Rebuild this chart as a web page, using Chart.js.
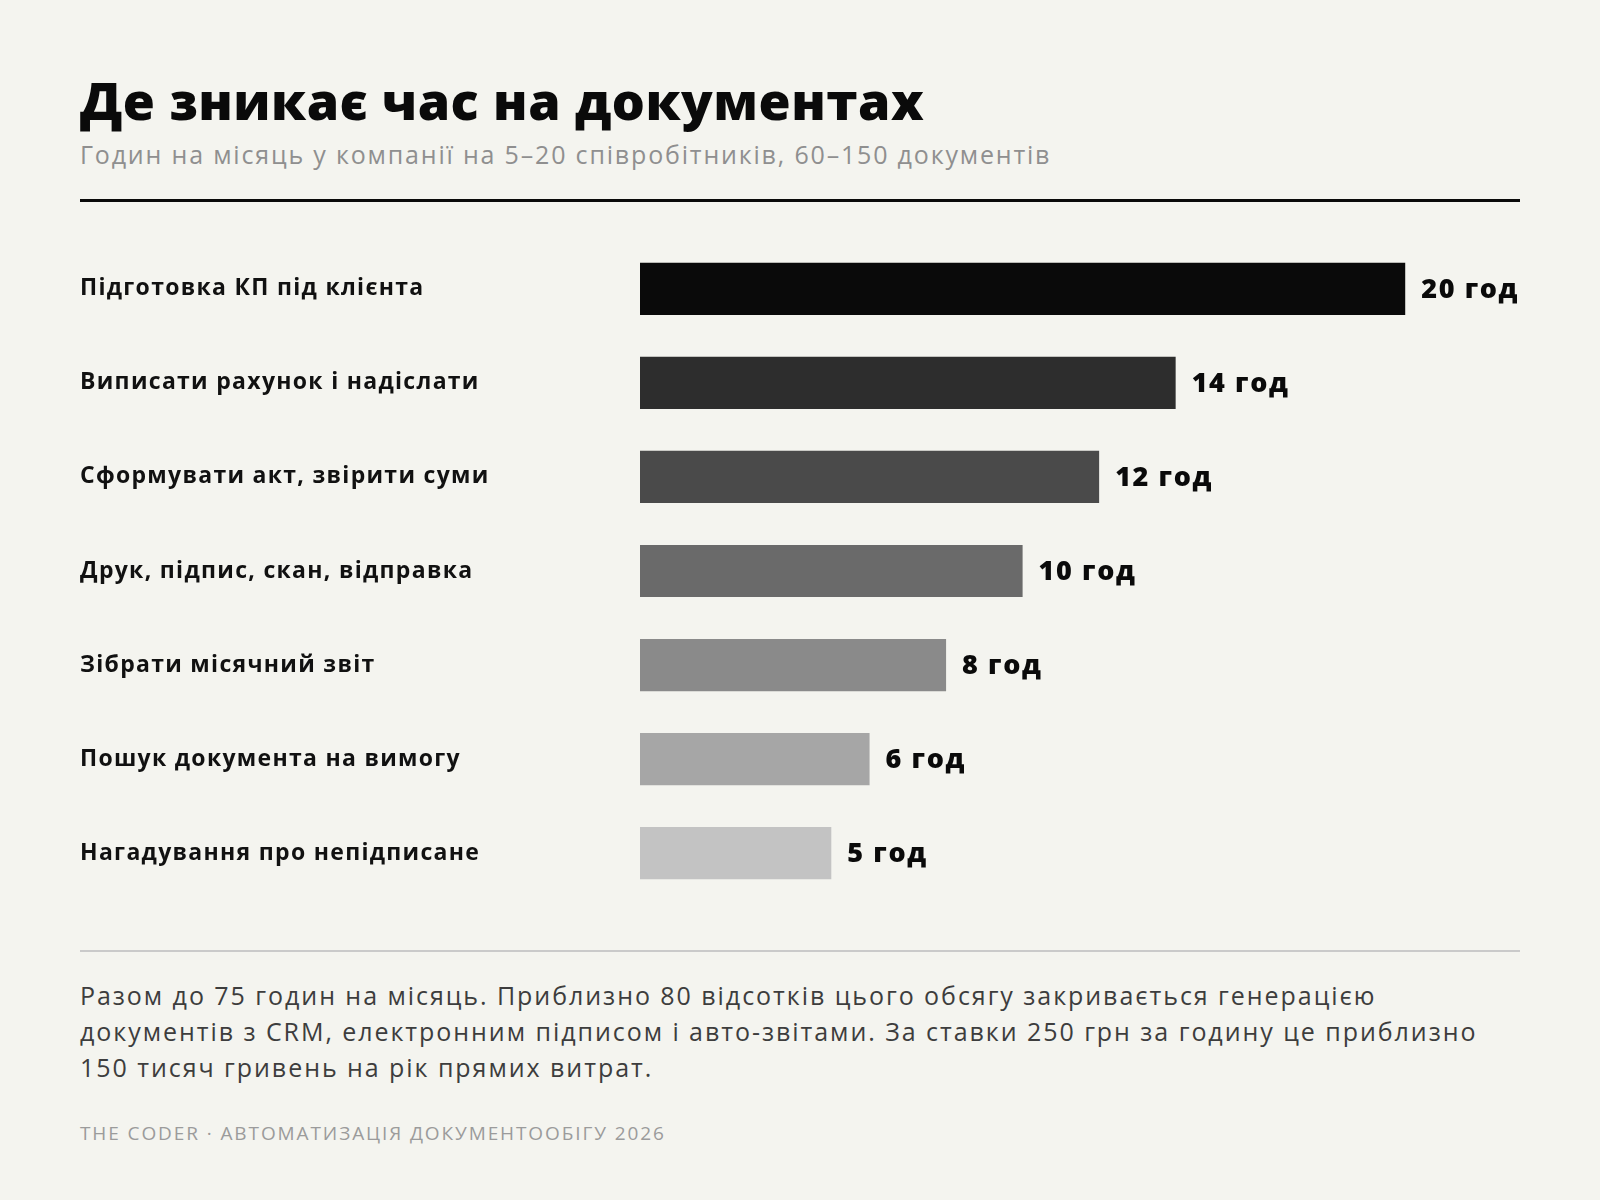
<!DOCTYPE html>
<html lang="uk">
<head>
<meta charset="utf-8">
<title>Де зникає час на документах</title>
<script src="https://cdn.jsdelivr.net/npm/chart.js@4.4.1/dist/chart.umd.min.js"></script>
<style>
  body { margin: 0; background: #f4f4ef; font-family: "Open Sans", "Noto Sans", sans-serif; }
  #page { position: relative; width: 1600px; height: 1200px; }
  #title { position: absolute; left: 80px; top: 70px; font-weight: 800; font-size: 52px; line-height: 60px; color: #0a0a0a; white-space: nowrap; letter-spacing: 0.5px; }
  #sub { position: absolute; left: 80px; top: 137px; font-size: 25px; line-height: 34px; color: #8f8f8f; white-space: nowrap; letter-spacing: 1.82px; }
  #rule { position: absolute; left: 80px; top: 199px; width: 1440px; height: 3px; background: #0a0a0a; }
  #chartBox { position: absolute; left: 80px; top: 228px; width: 1440px; height: 686px; }
  #rule2 { position: absolute; left: 80px; top: 950px; width: 1440px; height: 2px; background: #cacaca; }
  #note { position: absolute; left: 80px; top: 977px; font-size: 25px; line-height: 36px; color: #3d3d3d; white-space: nowrap; letter-spacing: 1.95px; }
  #foot { position: absolute; left: 80px; top: 1121px; font-size: 19px; line-height: 24px; color: #9b9b9b; text-transform: uppercase; white-space: nowrap; letter-spacing: 1.9px; }
</style>
</head>
<body>
<div id="page">
  <div id="title">Де зникає час на документах</div>
  <div id="sub">Годин на місяць у компанії на 5–20 співробітників, 60–150 документів</div>
  <div id="rule"></div>
  <div id="chartBox"><canvas id="hoursChart" width="1440" height="686"></canvas></div>
  <div id="rule2"></div>
  <div id="note">
    Разом до 75 годин на місяць. Приблизно 80 відсотків цього обсягу закривається генерацією<br>
    документів з CRM, електронним підписом і авто-звітами. За ставки 250 грн за годину це приблизно<br>
    150 тисяч гривень на рік прямих витрат.
  </div>
  <div id="foot">The Coder · Автоматизація документообігу 2026</div>
</div>

<script>
// дані
var categories = [
    'Підготовка КП під клієнта',
    'Виписати рахунок і надіслати',
    'Сформувати акт, звірити суми',
    'Друк, підпис, скан, відправка',
    'Зібрати місячний звіт',
    'Пошук документа на вимогу',
    'Нагадування про непідписане'
];
var hours = [20, 14, 12, 10, 8, 6, 5];
var unit = 'год';

var barColors = ['#0a0a0a', '#2d2d2d', '#4a4a4a', '#6a6a6a', '#8a8a8a', '#a6a6a6', '#c3c3c3'];

// трохи розрідити літери в підписах осі
var wideText = {
    id: 'wideText',
    beforeDraw: function(chart) {
        chart.ctx.letterSpacing = '1.3px';
    }
};

// підписи значень праворуч від смуг
var valueLabels = {
    id: 'valueLabels',
    afterDatasetsDraw: function(chart) {
        var ctx = chart.ctx;
        var meta = chart.getDatasetMeta(0);
        ctx.save();
        ctx.font = '800 27px "Open Sans"';
        ctx.letterSpacing = '1.6px';
        ctx.fillStyle = '#0a0a0a';
        ctx.textBaseline = 'middle';
        ctx.textAlign = 'left';
        meta.data.forEach(function(bar, i) {
            ctx.fillText(hours[i] + ' ' + unit, bar.x + 16, bar.y + 1);
        });
        ctx.restore();
    }
};

var ctx = document.getElementById('hoursChart').getContext('2d');
new Chart(ctx, {
    type: 'bar',
    data: {
        labels: categories,
        datasets: [{
            data: hours,
            backgroundColor: barColors,
            borderWidth: 0,
            categoryPercentage: 1,
            barPercentage: 0.555
        }]
    },
    options: {
        indexAxis: 'y',
        responsive: false,
        animation: false,
        layout: { padding: 0 },
        plugins: {
            legend: { display: false },
            tooltip: { enabled: false }
        },
        scales: {
            x: {
                display: false,
                min: 0,
                max: 23
            },
            y: {
                grid: { display: false },
                border: { display: false },
                ticks: {
                    crossAlign: 'far',
                    padding: 0,
                    color: '#111111',
                    font: { family: '"Open Sans"', size: 23, weight: 'bold' }
                },
                afterFit: function(scale) {
                    scale.width = 560;
                }
            }
        }
    },
    plugins: [wideText, valueLabels]
});
</script>
</body>
</html>
